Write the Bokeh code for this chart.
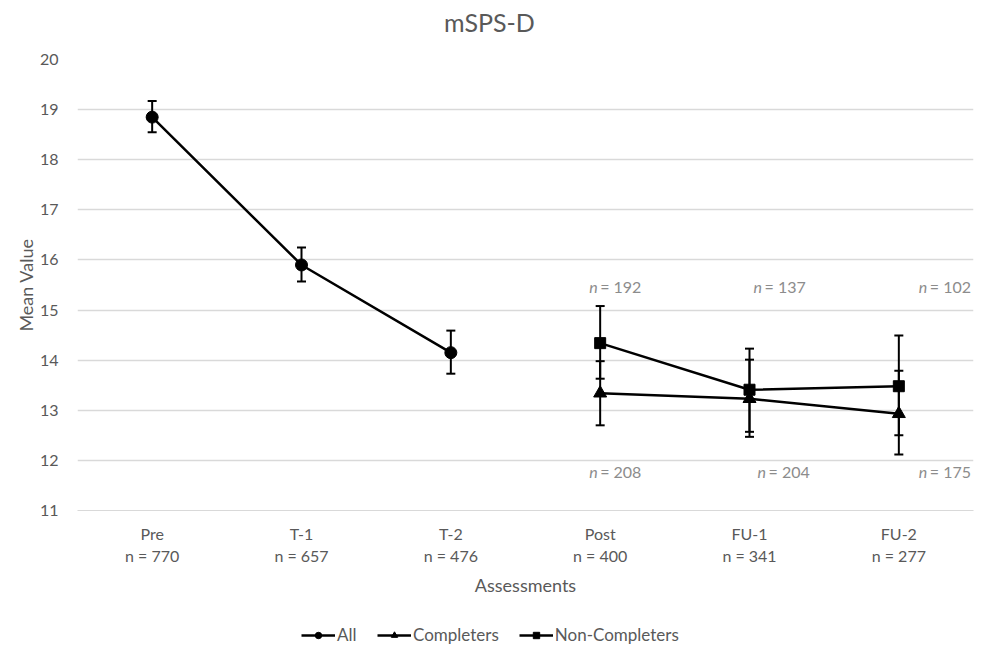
from bokeh.plotting import figure
from bokeh.layouts import column
from bokeh.models import (ColumnDataSource, Whisker, TeeHead, FixedTicker,
                          Legend, LegendItem, Range1d, Label)
from bokeh.core.properties import value
from bokeh.embed import file_html
from bokeh.resources import INLINE

# ---------------- data ----------------
title_text = "mSPS-D"
assessments = ["Pre", "T-1", "T-2", "Post", "FU-1", "FU-2"]
n_total = [770, 657, 476, 400, 341, 277]

all_idx = [0, 1, 2]
all_mean = [18.85, 15.90, 14.15]
all_lower = [18.55, 15.57, 13.73]
all_upper = [19.17, 16.25, 14.59]

grp_idx = [3, 4, 5]
comp_mean = [13.34, 13.23, 12.93]
comp_lower = [12.70, 12.47, 12.12]
comp_upper = [13.98, 14.01, 13.79]
comp_n = [208, 204, 175]

nc_mean = [14.34, 13.41, 13.48]
nc_lower = [13.63, 12.57, 12.50]
nc_upper = [15.08, 14.23, 14.49]
nc_n = [192, 137, 102]

series_names = ["All", "Completers", "Non-Completers"]
series_markers = ["circle", "triangle", "square"]

# ---------------- style ----------------
FONT = "Lato"
DARK = "#595959"
LIGHT = "#8c8c8c"
GRID = "#d9d9d9"
MARKER_SIZE = {"circle": 12, "triangle": 13, "square": 11}
W = 985

def blank(height):
    f = figure(width=W, height=height, output_backend="svg", toolbar_location=None,
               x_range=Range1d(0, 1), y_range=Range1d(0, 1),
               x_axis_location=None, y_axis_location=None, title=None,
               min_border_left=0, min_border_right=0, min_border_top=0, min_border_bottom=0)
    f.outline_line_color = None
    f.xgrid.grid_line_color = None
    f.ygrid.grid_line_color = None
    return f

# ---------------- title strip ----------------
pt = blank(45)
pt.add_layout(Label(x=412, y=24, x_units="screen", y_units="screen", text=title_text,
                    text_align="center", text_baseline="middle",
                    text_font=FONT, text_font_size="25px", text_color=DARK))

# ---------------- chart ----------------
p = figure(frame_width=896, frame_height=451, output_backend="svg", toolbar_location=None,
           x_range=Range1d(-0.5, 5.5), y_range=Range1d(11, 20), title=None,
           min_border_left=77, min_border_right=12, min_border_top=14,
           min_border_bottom=0)
p.outline_line_color = None

p.xaxis.ticker = FixedTicker(ticks=list(range(len(assessments))))
p.xaxis.major_label_overrides = {i: f"{a}\nn = {n}" for i, (a, n) in enumerate(zip(assessments, n_total))}
p.xaxis.axis_label = "Assessments"
p.yaxis.ticker = FixedTicker(ticks=list(range(11, 21)))
p.yaxis.axis_label = "Mean Value"
for ax in (p.xaxis[0], p.yaxis[0]):
    ax.major_tick_line_color = None
    ax.minor_tick_line_color = None
    ax.major_label_text_font = FONT
    ax.major_label_text_font_size = "16px"
    ax.major_label_text_color = DARK
    ax.axis_label_text_font = FONT
    ax.axis_label_text_font_size = "18px"
    ax.axis_label_text_font_style = "normal"
    ax.axis_label_text_color = DARK
p.xaxis.axis_line_color = GRID
p.yaxis.axis_line_color = None
p.xaxis.major_label_standoff = 7
p.yaxis.major_label_standoff = 13
p.xaxis.axis_label_standoff = 6
p.yaxis.axis_label_standoff = 0
p.xgrid.grid_line_color = None
p.ygrid.grid_line_color = GRID
p.ygrid.grid_line_width = 1.3

src_all = ColumnDataSource(dict(x=all_idx, y=all_mean, lo=all_lower, hi=all_upper))
src_c = ColumnDataSource(dict(x=grp_idx, y=comp_mean, lo=comp_lower, hi=comp_upper))
src_nc = ColumnDataSource(dict(x=grp_idx, y=nc_mean, lo=nc_lower, hi=nc_upper))

for s in (src_all, src_c, src_nc):
    p.add_layout(Whisker(source=s, base="x", lower="lo", upper="hi", dimension="height",
                         line_color="black", line_width=2,
                         upper_head=TeeHead(size=9, line_width=2, line_color="black"),
                         lower_head=TeeHead(size=9, line_width=2, line_color="black")))

for s, mk in zip((src_all, src_c, src_nc), series_markers):
    p.line("x", "y", source=s, line_color="black", line_width=2.5)
    p.scatter("x", "y", source=s, marker=mk, size=MARKER_SIZE[mk],
              fill_color="black", line_color="black")

# n annotations (Non-Completers above, Completers below)
top_dx = [-11, 4, 20]
bot_dx = [-11, 8, 20]
TOP_Y = 15.48
BOT_Y = 11.77
for i, xi in enumerate(grp_idx):
    for yy, nn, dx in ((TOP_Y, nc_n[i], top_dx[i]), (BOT_Y, comp_n[i], bot_dx[i])):
        p.text(x=[xi], y=[yy], text=["n"], x_offset=dx,
               text_font=value(FONT), text_font_size="16px", text_font_style="italic",
               text_color=LIGHT, text_align="left", text_baseline="middle")
        p.text(x=[xi], y=[yy], text=[f"= {nn}"], x_offset=dx + 11,
               text_font=value(FONT), text_font_size="16px",
               text_color=LIGHT, text_align="left", text_baseline="middle")

# ---------------- legend strip ----------------
pl = blank(48)
items = []
for name, mk in zip(series_names, series_markers):
    # off-range placeholder renderers that only supply the legend swatches
    lr = pl.line(x=[-5, -4], y=[-5, -4], line_color="black", line_width=2.5)
    sr = pl.scatter(x=[-5], y=[-5], marker=mk, size=MARKER_SIZE[mk] - 2,
                    fill_color="black", line_color="black")
    items.append(LegendItem(label=name, renderers=[lr, sr]))
pl.add_layout(Legend(items=items, orientation="horizontal", location=(224, 2),
                     label_text_font=FONT, label_text_font_size="17px",
                     label_text_color=DARK, glyph_width=34, glyph_height=16,
                     label_standoff=2, spacing=20, padding=0, margin=0,
                     border_line_color=None, background_fill_alpha=0), "center")

layout = column(pt, p, pl, spacing=0)
open("out.html", "w").write(file_html(layout, INLINE))
